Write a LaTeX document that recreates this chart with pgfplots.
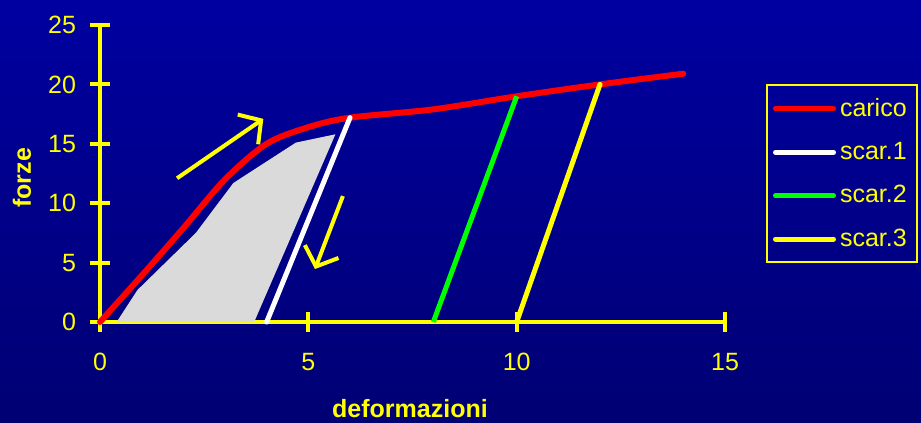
\documentclass[border=0pt]{standalone}
\usepackage{fontspec}
\setmainfont{Liberation Sans}
\usepackage{pgfplots}
\pgfplotsset{compat=1.18}
\usetikzlibrary{arrows.meta}
\definecolor{bgmid}{RGB}{0,0,202}
\definecolor{bgtop}{RGB}{0,0,160}
\definecolor{bgbot}{RGB}{0,0,115}
\definecolor{ylw}{RGB}{255,255,0}
\definecolor{fillgray}{RGB}{218,218,218}
\definecolor{grn}{RGB}{0,255,0}
\begin{document}
\begin{tikzpicture}
\useasboundingbox (0,0) rectangle (460.5pt,211.5pt);
\shade[top color=bgtop, middle color=bgmid, bottom color=bgbot] (0,0) rectangle (460.5pt,211.5pt);
\begin{axis}[
  at={(50pt,50.5pt)}, anchor=south west,
  scale only axis, width=312.5pt, height=148.5pt,
  xmin=0, xmax=15, ymin=0, ymax=25,
  axis lines=left, axis line style={-, ylw, line width=2pt},
  xtick={0,5,10,15}, ytick={0,5,10,15,20,25},
  tick align=center, major tick length=10pt,
  tick style={ylw, line width=2pt},
  tick label style={text=ylw, font=\fontsize{12.5}{15}\selectfont},
  /pgf/number format/assume math mode=true,
  xticklabel style={yshift=-7pt},
  yticklabel style={xshift=-3.5pt},
  xlabel={deformazioni}, ylabel={forze},
  label style={text=ylw, font=\bfseries\fontsize{12.5}{15}\selectfont},
  xlabel style={at={(axis description cs:0.496,-0.29)}, anchor=center},
  ylabel style={at={(axis description cs:-0.125,0.485)}, anchor=center},
  clip=false,
  legend cell align=left,
  legend style={at={(1.0656,0.801)}, anchor=north west, draw=ylw, line width=1pt,
    fill=none, text=ylw, font=\fontsize{12.5}{15}\selectfont,
    inner xsep=3pt, inner ysep=4.5pt, row sep=7.5pt},
  legend image code/.code={\draw[line width=2.5pt, line cap=round] (0pt,0pt) -- (29pt,0pt);},
]
\addplot[fill=fillgray, draw=none, forget plot] coordinates {(0.4,0) (0.9,2.7) (2.3,7.5) (3.2,11.7) (4.7,15.1) (5.65,15.8) (3.7,0)} -- cycle;
\addplot[red, line width=3pt, line cap=round, smooth, tension=0.5] coordinates {(0,0) (1,3.9) (2,7.9) (3,12) (4,15) (5,16.4) (6,17.2) (8,17.9) (10,19) (12,20) (14,20.9)};
\addlegendentry{carico}
\addplot[white, line width=2.5pt, line cap=round] coordinates {(4,0) (6,17.2)};
\addlegendentry{scar.1}
\addplot[grn, line width=2.5pt] coordinates {(8,0) (10,19)};
\addlegendentry{scar.2}
\addplot[ylw, line width=2.5pt, line cap=round] coordinates {(10,0) (12,20)};
\addlegendentry{scar.3}
\draw[ylw, line width=2pt, -{Straight Barb[length=8pt,width=18pt]}] (axis cs:1.85,12.1) -- (axis cs:3.92,17.1);
\draw[ylw, line width=2pt, -{Straight Barb[length=8pt,width=18pt]}] (axis cs:5.83,10.6) -- (axis cs:5.16,4.46);
\end{axis}
\end{tikzpicture}
\end{document}
